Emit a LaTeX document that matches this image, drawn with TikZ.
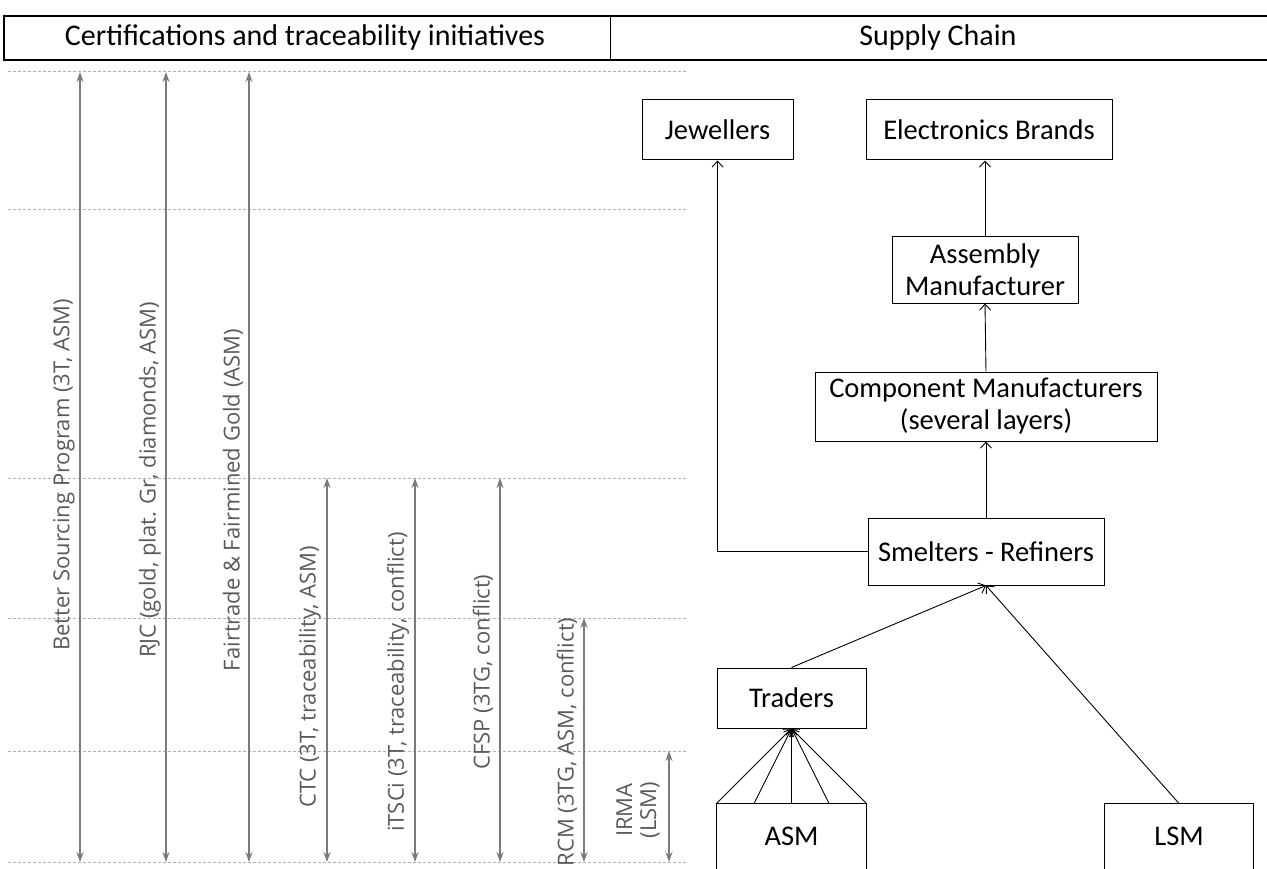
\documentclass[tikz,border=0pt]{standalone}
\usepackage{fontspec}
\setmainfont{Carlito}
\newfontfamily\lblfont{Open Sans}
\usetikzlibrary{arrows.meta,calc}
\definecolor{lblgray}{HTML}{5A5A5A}
\definecolor{arrgray}{HTML}{7A7A7A}
\definecolor{dashgray}{HTML}{B0B0B0}
\begin{document}
\begin{tikzpicture}[x=1pt,y=-1pt,
  box/.style={draw, line width=1pt, inner sep=0pt, align=center, font=\fontsize{28.5}{32}\selectfont},
  conn/.style={line width=0.9pt, -{Straight Barb[length=6pt,width=11pt]}},
  garrow/.style={draw=arrgray, line width=1.2pt, {Stealth[length=10pt,width=7pt]}-{Stealth[length=10pt,width=7pt]}},
  dline/.style={draw=dashgray, line width=1pt, dash pattern=on 3pt off 2pt},
  lbl/.style={rotate=90, text=lblgray, inner sep=0pt, align=center, font=\lblfont\fontsize{22}{24}\selectfont},
  head/.style={inner sep=0pt, font=\fontsize{30}{34}\selectfont}]
\useasboundingbox (0,0) rectangle (1267,869);
% header
\draw[line width=1.3pt] (4,16) rectangle (1270,60);
\draw[line width=1pt] (610,16) -- (610,60);
\node[head] (h1) at (305,38) {Certifications and traceability initiatives};
\node[head] (h2) at (938,38) {Supply Chain};
% dashed level lines
\foreach \yy/\nm in {72/d1,210/d2,478/d3,618/d4,751/d5,862/d6}{
  \coordinate (\nm l) at (8,\yy);
  \coordinate (\nm r) at (688,\yy);
  \draw[dline] (\nm l) -- (\nm r);
}
% vertical arrows
\coordinate (a1t) at (80,72);   \coordinate (a1b) at (80,862);
\coordinate (a2t) at (166,72);  \coordinate (a2b) at (166,862);
\coordinate (a3t) at (249,72);  \coordinate (a3b) at (249,862);
\coordinate (a4t) at (327,478); \coordinate (a4b) at (327,862);
\coordinate (a5t) at (415,478); \coordinate (a5b) at (415,862);
\coordinate (a6t) at (500,478); \coordinate (a6b) at (500,862);
\coordinate (a7t) at (584,618); \coordinate (a7b) at (584,862);
\coordinate (a8t) at (669,751); \coordinate (a8b) at (669,862);
\foreach \i in {1,...,8}{\draw[garrow] (a\i b) -- (a\i t);}
\node[lbl] (l1) at (64,475) {Better Sourcing Program (3T, ASM)};
\node[lbl] (l2) at (150,480) {RJC (gold, plat. Gr, diamonds, ASM)};
\node[lbl] (l3) at (233,500) {Fairtrade \& Fairmined Gold (ASM)};
\node[lbl] (l4) at (310,677) {CTC (3T, traceability, ASM)};
\node[lbl] (l5) at (398,682) {iTSCi (3T, traceability, conflict)};
\node[lbl] (l6) at (483,672) {CFSP (3TG, conflict)};
\node[lbl] (l7) at (567,742) {RCM (3TG, ASM, conflict)};
\node[lbl] (l8) at (638,810) {IRMA\\(LSM)};
% supply chain boxes
\node[box, minimum width=151pt, minimum height=60pt] (jew) at (717.5,130) {Jewellers};
\node[box, minimum width=246pt, minimum height=60pt] (elec) at (989,130) {Electronics Brands};
\node[box, minimum width=186pt, minimum height=66pt] (asmman) at (985,270) {Assembly\\Manufacturer};
\node[box, minimum width=342pt, minimum height=69pt] (comp) at (986,406.5) {Component Manufacturers\\(several layers)};
\node[box, minimum width=236pt, minimum height=67pt] (smelt) at (986,551.5) {Smelters - Refiners};
\node[box, minimum width=149pt, minimum height=60pt] (traders) at (791.5,698) {Traders};
\node[box, draw=none, minimum width=149pt, minimum height=64pt] (asm) at (791.5,836) {ASM};
\node[box, draw=none, minimum width=148pt, minimum height=64pt] (lsm) at (1179,836) {LSM};
\draw[line width=1pt] ($(asm.south west)+(0,20)$) -- (asm.north west) -- (asm.north east) -- ($(asm.south east)+(0,20)$);
\draw[line width=1pt] ($(lsm.south west)+(0,20)$) -- (lsm.north west) -- (lsm.north east) -- ($(lsm.south east)+(0,20)$);
% connectors
\draw[conn] (smelt.west) -| (jew.south);
\draw[conn] (asmman.north) -- (asmman.north |- elec.south);
\draw[conn] (comp.north) -- (asmman.south);
\draw[conn] (smelt.north) -- (comp.south);
\draw[conn] (traders.north) -- (smelt.south);
\draw[conn] (lsm.north) -- (smelt.south);
\foreach \t in {0,0.25,0.5,0.75,1}{
  \draw[conn] ($(asm.north west)!\t!(asm.north east)$) -- (traders.south);
}
\end{tikzpicture}
\end{document}
